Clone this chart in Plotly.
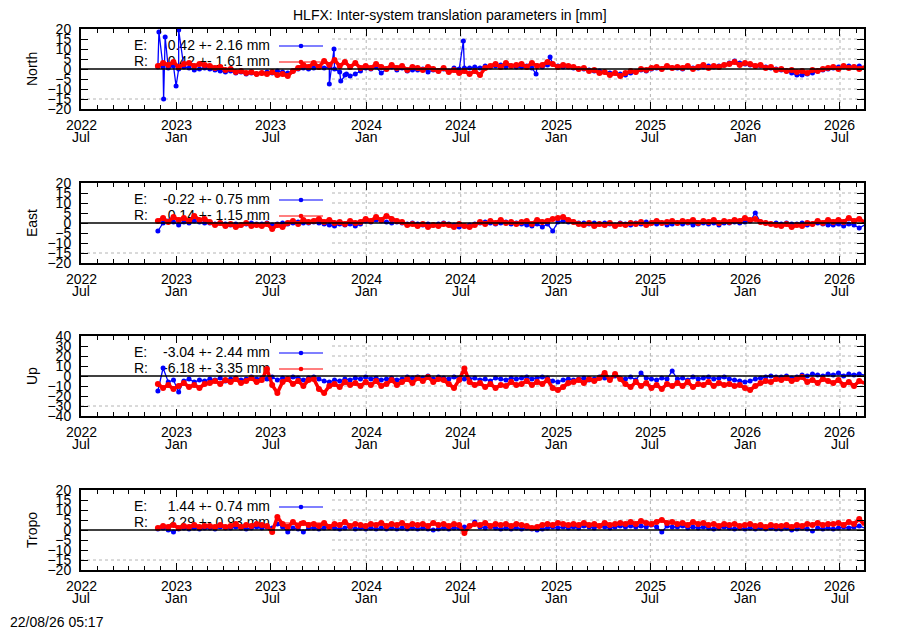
import pandas as pd
import plotly.graph_objects as go

FONT = "Liberation Sans"

# samples every 10 days
dates = pd.date_range("2022-11-26", periods=137, freq="10D")

north_e = [
    1, 1, 0.5, 1.5, 0, 1, 0.5, -0.5, 0, 0.5,
    0, -0.5, -1, -1.5, -1, -2, -1.5, -2.5, -2, -2.5,
    -2, -1.5, -2, -1, -1.5, -2, -1, 0, 0.5, 0,
    0.5, 1, 0.5, 1, 0, -1.5, -3, -3.5, -2.5, -1,
    0.5, 0, 1, -2, 0, 1, -0.5, 0.5, -1, -0.5,
    -0.5, 0, -1.5, -0.5, -1, 0, -1, 0.5, 0, 0.5,
    0.5, 1, 0.5, 1.5, 1, 1.5, 2, 1, 1.5, 1,
    1, 1.5, 0.5, 1.5, 1, 2, 2.5, 1.5, 1, 1,
    0.5, 0, 0, -0.5, -1, -1, -1.5, -2, -2, -2.5,
    -3, -2, -1.5, -0.5, -1, 0, 0.5, 0, 1, 0.5,
    0.5, 0, 1, 0.5, 0.5, 1, 1.5, 1, 1.5, 2,
    3, 4, 3, 2.5, 2, 1.5, 1.5, 1, 0.5, 0,
    -0.5, -1, -2, -3, -3, -2.5, -2, -1, -0.5, 0,
    0.5, 1, 1, 1.5, 1, 1.5, 1,
]
# single-day outliers of the E north series
north_e_spike_dates = ["2022-11-28", "2022-12-07", "2022-12-10", "2022-12-31", "2023-01-05",
                       "2023-10-22", "2023-10-31", "2023-11-13", "2023-11-24",
                       "2024-07-06", "2024-11-23", "2024-12-20"]
north_e_spike_vals = [18.5, -15, 16, -8.5, 19.5, -7.5, 10, -6, -2.5, 14, -2.5, 6]

north_r = [
    1.5, 3, 2, 3.5, 1, 2.5, 3, 1.5, 2.5, 2,
    1.5, 0.5, 1, -0.5, 0, -1.5, -1, -2, -1.5, -2.5,
    -2, -2.5, -1.5, -3, -2.5, -3.5, -1, 0.5, 2, 1,
    3, 1, 4, 2, 4.5, 1.5, 3.5, 1, 3, 0.5,
    1.5, 0.5, 2.5, 1, 0, 2, 0.5, 1.5, -0.5, 1,
    0.5, -0.5, 1, 0, -1, 0.5, -1.5, -0.5, -2, -1,
    -2.5, -1, -3, 0.5, 1.5, 2.5, 1, 3, 1.5, 2,
    2.5, 1, 3, 1.5, 2, 3.5, 2.5, 1, 2, 1.5,
    1, 0, 0.5, -1, -0.5, -2, -1.5, -3, -2, -3.5,
    -2, -1, -1.5, 0, -0.5, 0.5, 1, 0, 1.5, 0.5,
    1, 0.5, 1.5, 0, 1, 2, 0.5, 1.5, 1, 2,
    2.5, 3.5, 2, 3, 2.5, 1.5, 2, 0.5, 1, -0.5,
    0, -1, -0.5, -1.5, -1, -2, -0.5, -1, 0, 0.5,
    1, 0, 1.5, 0.5, 1, 0, 1,
]

east_e = [
    -4, 0, 1, 0.5, -1, 0.5, 0, 1, 0.5, 0,
    0, -0.5, 0, -0.5, -1, -0.5, -1, -0.5, 0, -0.5,
    -0.5, 0, -1, -0.5, 0, -0.5, 0, 0.5, 0, 0,
    0.5, 0, -0.5, -1, -1.5, -0.5, -1, -0.5, -1.5, -0.5,
    1, 0.5, 1.5, 1, 0.5, 0, 0.5, 0, -0.5, 0,
    -0.5, -1, -0.5, -1, -0.5, 0, -0.5, -1, -2, -1.5,
    -1, -0.5, 0, 0.5, 0, -0.5, 0, 0.5, -0.5, 0,
    -0.5, -1, -1.5, -0.5, -2, -0.5, -4, 0.5, 1, 0.5,
    0.5, 0, 0, -0.5, 0, -0.5, 0, -0.5, -1, 0,
    -0.5, -1, 0, -0.5, 0.5, 0, -0.5, 0, -1, -0.5,
    0, -0.5, 0, -1, -0.5, 0, -0.5, 0, -1, 0,
    0, 0.5, 0, 0.5, 1, 5, 0.5, 0, -0.5, 0,
    -0.5, 0, -0.5, -0.5, 0, -1, -0.5, 0, -0.5, -1,
    -1, -0.5, -1.5, -0.5, -1, -2.5, -1,
]
east_r = [
    1, 2.5, 0.5, 3, 1.5, 2.5, 1, 3.5, 1.5, 2,
    0.5, -1, 0, -1.5, -0.5, -2, -1, 0, -1.5, -1,
    -1.5, -0.5, -3, -1, -2, 0, 1, -0.5, 1.5, 0.5,
    1, 2, 0.5, 1.5, 0, 0.5, -0.5, 1, 0, 0.5,
    2, 1, 3, 1.5, 3.5, 2, 1, 0.5, -1, -0.5,
    -1.5, -0.5, -2, -1, -1.5, -0.5, -1, -2, -0.5, -1.5,
    -2, -1, 0.5, -0.5, 1, 0, 1.5, 0, 0.5, -0.5,
    0.5, 1, -0.5, 1.5, 0.5, 1, 2, 2.5, 3, 1.5,
    0.5, -0.5, -1, 0, -1.5, -0.5, -1, 0, -1.5, -0.5,
    -1, 0, -0.5, 0.5, -1, 0, 1, 0, 0.5, 1,
    0, 1, 0.5, 1.5, 0, 1, 0.5, 1.5, 0, 1,
    0.5, 1.5, 1, 2.5, 1.5, 2, 0.5, 0, -0.5, -1,
    -1.5, -0.5, -2, -1, -1.5, 0, -0.5, 1, 0, 1.5,
    0.5, 1.5, 0.5, 2.5, 1, 2, 0.5,
]

up_e = [
    -15, 8, -6, -4, -16, -5, -3, -6, -4, -5,
    -3, -4, -2, -5, -3, -2, -4, -3, -1, -3,
    -2, -3, -1, -4, -2, -3, -1, -2, -4, -2,
    -1, -3, -5, -6, -4, -5, -3, -4, -2, -3,
    -1, -3, -2, -4, -3, -2, -4, -3, -1, -2,
    -1, -2, 0, -3, -1, -2, -3, -1, -2, -3,
    -3, -2, -4, -3, -5, -2, -3, -4, -2, -3,
    -2, -1, -3, -2, -1, -2, -5, -6, -4, -3,
    -4, -3, -2, -4, -3, -1, -2, -3, 0, -2,
    -3, -1, -4, 3, -2, -3, -4, -2, -3, 5,
    -3, -2, -4, -1, -3, -2, -1, -3, -2, -1,
    -3, -4, -5, -6, -5, -3, -2, -1, 0, -1,
    -1, 0, -2, -1, 1, 0, 2, 1, 0, 2,
    1, 3, 0, 2, 1, 2, 1,
]
up_r = [
    -8, -12, -9, -13, -10, -7, -11, -9, -12, -8,
    -7, -5, -8, -4, -6, -3, -7, -5, -2, -6,
    -4, 7, -9, -17, -6, -3, -8, -5, -10, -4,
    -3, -13, -17, -10, -8, -11, -6, -9, -7, -10,
    -6, -9, -5, -10, -8, -4, -9, -6, -3, -7,
    -2, -5, -1, -6, -3, -4, -8, -12, -4, 7.5,
    -6, -9, -7, -11, -8, -12, -9, -10, -6, -9,
    -8, -5, -9, -6, -8, -4, -12, -14, -11, -7,
    -6, -4, -7, -3, -5, -2, 3, -4, 2, -3,
    -8, -11, -6, -10, -7, -12, -9, -13, -8, -10,
    -7, -10, -6, -11, -8, -9, -6, -10, -7, -9,
    -8, -10, -9, -12, -14, -10, -7, -5, -6, -3,
    -4, -2, -5, -3, -1, -6, -4, -7, -3, -5,
    -7, -4, -9, -6, -10, -5, -7,
]

tropo_e = [
    0.5, 1, 0, -1, 0.5, 1, 0.5, 1, 0.5, 1,
    1, 0.5, 1.5, 1, 1, 1.5, 1, 0.5, 1, 1.5,
    1, 1.5, 1, 3, 1.5, -1, 1, 0.5, -1, 1,
    1, 0.5, 1, 1.5, 1, 0.5, 1, 1.5, 0.5, 1,
    0.5, 1, 0.5, 1, 0.5, 1, 0.5, 1, 0.5, 1,
    0.5, 1, 0.5, 0, 0.5, 1, 0.5, 1, 1, 1.5,
    2, 4, 1.5, 1, 1.5, 1, 0.5, 1, 0.5, 1,
    0.5, 1, 0.5, 0, 0.5, 1, 1.5, 1, 1.5, 1,
    1.5, 1, 2, 1.5, 1, 2, 1.5, 1, 1.5, 2,
    1.5, 2, 1.5, 2, 1.5, 2.5, 1.5, -1, 2, 1.5,
    1.5, 2, 1, 1.5, 1, 1.5, 1, 0.5, 1, 1.5,
    1, 0.5, 1, 0.5, 1, 0.5, 1, 0.5, 1, 0.5,
    0.5, 1, 0, 0.5, 1, 0.5, -0.5, 1, 0.5, 1,
    0.5, 1, 1.5, 1, 1.5, 2, 1,
]
tropo_r = [
    1, 2, 1.5, 2.5, 1, 2, 1.5, 2.5, 1.5, 2,
    2, 1.5, 2.5, 1.5, 2, 3, 1.5, 2.5, 2, 3,
    2.5, 2, -1, 6.5, 3, 1.5, 4, 2, 3.5, 2.5,
    3, 2, 3.5, 1.5, 3, 2.5, 4, 2, 3, 2.5,
    2, 3, 2.5, 3.5, 2, 3, 2.5, 3.5, 2, 3,
    2.5, 3, 2, 3.5, 2.5, 3, 2, 3, 2.5, -1.5,
    2, 3, 2.5, 3.5, 2, 3, 2.5, 3, 2, 3,
    2.5, 2, 1, 1.5, 2.5, 3, 2.5, 3.5, 3, 2.5,
    3, 2.5, 3.5, 2.5, 3, 2, 3.5, 2.5, 3, 3.5,
    3, 4, 3, 4.5, 3.5, 3, 4, 5, 3.5, 4,
    3, 3.5, 2.5, 4, 3, 3.5, 2.5, 3, 2, 3,
    2.5, 3, 2, 2.5, 3, 2, 2.5, 1.5, 2.5, 2,
    2, 2.5, 1.5, 2.5, 2, 3, 2.5, 3.5, 2.5, 3,
    3, 3.5, 2.5, 4, 3, 5.5, 2.5,
]

panel_names = ["North", "East", "Up", "Tropo"]
e_labels = ["0.42 +- 2.16 mm", "-0.22 +- 0.75 mm", "-3.04 +- 2.44 mm", "1.44 +- 0.74 mm"]
r_labels = ["0.42 +- 1.61 mm", "0.14 +- 1.15 mm", "-6.18 +- 3.35 mm", "2.29 +- 0.93 mm"]
y_limits = [20, 20, 40, 20]
y_steps = [5, 5, 10, 5]

tick_dates = ["2022-07-01", "2023-01-01", "2023-07-01", "2024-01-01", "2024-07-01",
              "2025-01-01", "2025-07-01", "2026-01-01", "2026-07-01"]
tick_years = ["2022", "2023", "2023", "2024", "2024", "2025", "2025", "2026", "2026"]
tick_months = ["Jul", "Jan", "Jul", "Jan", "Jul", "Jan", "Jul", "Jan", "Jul"]

x_start = pd.Timestamp("2022-07-01")
x_end = pd.Timestamp("2026-08-16 05:00")

# page geometry in pixels
W, H = 900, 630
L, R, T, B = 81, 864, 29, 570
panel_tops = [29, 183, 336, 490]
PH = 80


def fx(px):
    return (px - L) / (R - L)


def fy(py):
    return (B - py) / (B - T)


def frac_date(f):
    return x_start + (x_end - x_start) * f


def date_frac(d):
    return (pd.Timestamp(d) - x_start) / (x_end - x_start)


ne = pd.Series(north_e, index=dates)
ne = pd.concat([ne, pd.Series(north_e_spike_vals, index=pd.to_datetime(north_e_spike_dates))]).sort_index()
e_series = [ne, pd.Series(east_e, index=dates), pd.Series(up_e, index=dates), pd.Series(tropo_e, index=dates)]
r_series = [pd.Series(north_r, index=dates), pd.Series(east_r, index=dates),
            pd.Series(up_r, index=dates), pd.Series(tropo_r, index=dates)]

BLUE = "#0000ff"
RED = "#ff0000"
GRID = "#b4b4b4"
BOX_X = fx(332)   # right edge of the opaque key box
DOT_R = 2.3

fig = go.Figure()
shapes = []
annotations = []
layout_axes = {}

for k in range(4):
    n = k + 1
    xa = "x" if n == 1 else f"x{n}"
    ya = "y" if n == 1 else f"y{n}"
    top = panel_tops[k]
    lim = y_limits[k]
    step = y_steps[k]
    row1 = lim - 2 * lim * 17 / PH
    row2 = lim - 2 * lim * 33 / PH

    # grid; the key box hides it on the left, except the lowest line
    for v in range(-lim + step, lim, step):
        if v == 0:
            continue
        x0 = 0 if v == -lim + step else BOX_X
        shapes.append(dict(type="line", xref=f"{xa} domain", yref=ya, x0=x0, x1=1, y0=v, y1=v,
                           line=dict(color=GRID, width=1, dash="dot"), layer="below"))
    for d in tick_dates:
        if date_frac(d) > BOX_X:
            shapes.append(dict(type="line", xref=xa, yref=f"{ya} domain", x0=d, x1=d, y0=0, y1=1,
                               line=dict(color=GRID, width=1, dash="dot"), layer="below"))

    # key text sits underneath the data, as in gnuplot
    for yy, lab, txt in [(row1, "E:", e_labels[k]), (row2, "R:", r_labels[k])]:
        fig.add_trace(go.Scatter(x=[frac_date(fx(134))], y=[yy], mode="text", text=[lab],
                                 textposition="middle right", xaxis=xa, yaxis=ya,
                                 textfont=dict(family=FONT, size=14, color="black"),
                                 hoverinfo="skip", cliponaxis=False))
        fig.add_trace(go.Scatter(x=[frac_date(fx(270))], y=[yy], mode="text", text=[txt],
                                 textposition="middle left", xaxis=xa, yaxis=ya,
                                 textfont=dict(family=FONT, size=14, color="black"),
                                 hoverinfo="skip", cliponaxis=False))

    es = e_series[k]
    rs = r_series[k]
    fig.add_trace(go.Scatter(x=es.index, y=es.values, mode="lines+markers", xaxis=xa, yaxis=ya,
                             line=dict(color=BLUE, width=1.3), marker=dict(color=BLUE, size=5)))
    fig.add_trace(go.Scatter(x=rs.index, y=rs.values, mode="lines+markers", xaxis=xa, yaxis=ya,
                             line=dict(color=RED, width=3.5), marker=dict(color=RED, size=6)))

    xkey = "xaxis" if n == 1 else f"xaxis{n}"
    ykey = "yaxis" if n == 1 else f"yaxis{n}"
    layout_axes[xkey] = dict(
        type="date", range=[x_start, x_end], anchor=ya, domain=[0, 1],
        tickvals=tick_dates, showticklabels=False,
        ticks="inside", ticklen=7, tickwidth=1, tickcolor="black",
        showline=True, linecolor="black", linewidth=2, mirror="ticks",
        showgrid=False, zeroline=False,
        minor=dict(ticks="inside", ticklen=4, tickcolor="black", dtick="M1",
                   tick0="2022-07-01", showgrid=False),
    )
    layout_axes[ykey] = dict(
        range=[-lim, lim], anchor=xa, domain=[fy(top + PH), fy(top)],
        tickvals=list(range(-lim, lim + 1, step)),
        ticks="inside", ticklen=7, tickwidth=1, tickcolor="black",
        showline=True, linecolor="black", linewidth=2, mirror="ticks",
        showgrid=False, zeroline=False,
        tickfont=dict(family=FONT, size=14, color="black"), ticklabelstandoff=5,
    )

    # zero axis on top of the data
    shapes.append(dict(type="line", xref=f"{xa} domain", yref=ya, x0=0, x1=1, y0=0, y1=0,
                       line=dict(color="black", width=1.5), layer="above"))

    # key samples
    for yy_px, col in [(top + 17, BLUE), (top + 33, RED)]:
        shapes.append(dict(type="line", xref="paper", yref="paper", x0=fx(279), x1=fx(323),
                           y0=fy(yy_px), y1=fy(yy_px), line=dict(color=col, width=1.2)))
        shapes.append(dict(type="circle", xref="paper", yref="paper",
                           x0=fx(301 - DOT_R), x1=fx(301 + DOT_R),
                           y0=fy(yy_px + DOT_R), y1=fy(yy_px - DOT_R),
                           fillcolor=col, line=dict(color=col, width=0)))

    annotations.append(dict(text=panel_names[k], textangle=-90, xref="paper", yref="paper",
                            x=fx(32), y=fy(top + PH / 2), showarrow=False,
                            xanchor="center", yanchor="middle",
                            font=dict(family=FONT, size=14, color="black")))

    bottom = top + PH
    for d, yr, mo in zip(tick_dates, tick_years, tick_months):
        annotations.append(dict(text=yr, xref=xa, yref="paper", x=d, y=fy(bottom + 15.5),
                                showarrow=False, xanchor="center", yanchor="middle",
                                font=dict(family=FONT, size=14, color="black")))
        annotations.append(dict(text=mo, xref=xa, yref="paper", x=d, y=fy(bottom + 28),
                                showarrow=False, xanchor="center", yanchor="middle",
                                font=dict(family=FONT, size=14, color="black")))

annotations.append(dict(text="HLFX: Inter-system translation parameters in [mm]",
                        xref="paper", yref="paper", x=fx(450), y=fy(15), showarrow=False,
                        xanchor="center", yanchor="middle",
                        font=dict(family=FONT, size=14, color="black")))
annotations.append(dict(text="22/08/26 05:17", xref="paper", yref="paper", x=fx(8), y=fy(622),
                        showarrow=False, xanchor="left", yanchor="middle",
                        font=dict(family=FONT, size=14, color="black")))

fig.update_layout(
    width=W, height=H,
    margin=dict(l=L, r=W - R, t=T, b=H - B),
    plot_bgcolor="white", paper_bgcolor="white",
    showlegend=False, hovermode=False,
    shapes=shapes, annotations=annotations,
    font=dict(family=FONT, size=14, color="black"),
    **layout_axes,
)

fig.write_html("out.html", config={"displayModeBar": False},
               post_script="document.body.style.margin='0';")
